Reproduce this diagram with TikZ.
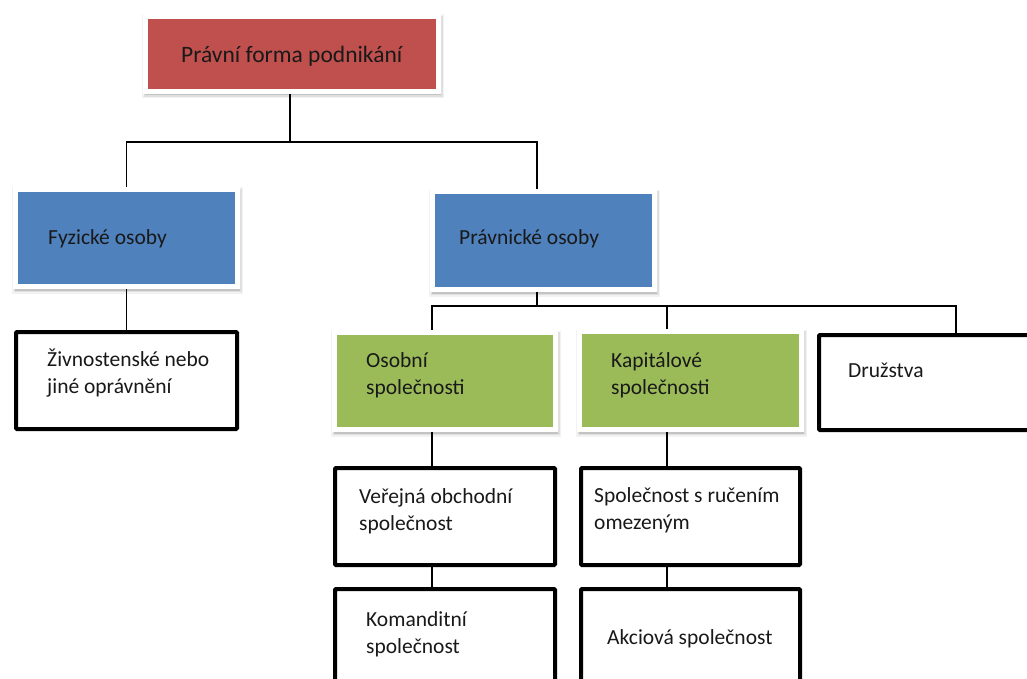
\documentclass[tikz,border=0pt]{standalone}
\usepackage{fontspec}
\setmainfont{Carlito}
\usetikzlibrary{calc}
\definecolor{cred}{HTML}{C0504D}
\definecolor{cblue}{HTML}{4F81BD}
\definecolor{cgreen}{HTML}{9BBB59}
\begin{document}
\begin{tikzpicture}[x=1pt,y=-1pt,
  cbox/.style={draw=white, line width=5pt, inner sep=0pt,
    preaction={draw=black, line width=9pt, opacity=0.05, transform canvas={xshift=1pt, yshift=-2.5pt}},
    preaction={draw=black, line width=6pt, opacity=0.08, transform canvas={xshift=1pt, yshift=-2.5pt}},
    preaction={fill=black, draw=black, line width=3pt, opacity=0.12, transform canvas={xshift=1pt, yshift=-2.5pt}}},
  bbox/.style={draw=black, line width=4pt, fill=white, inner sep=0pt, rounded corners=1pt},
  conn/.style={draw=black, line width=1.8pt},
  txt/.style={font=\fontsize{21.5}{26.5}\selectfont, align=left, inner sep=0pt, anchor=base west, text=black!90}]
\useasboundingbox (0,0) rectangle (1027,679);
\clip (0,0) rectangle (1027,679);
\fill[white] (0,0) rectangle (1027,679);
% boxes
\node[cbox, fill=cred, minimum width=293, minimum height=75] (top) at (292,54) {};
\node[cbox, fill=cblue, minimum width=222, minimum height=97] (fyz) at (126.5,238) {};
\node[cbox, fill=cblue, minimum width=222, minimum height=98] (prav) at (543.5,240.5) {};
\node[cbox, fill=cgreen, minimum width=221, minimum height=97] (oso) at (445,381) {};
\node[cbox, fill=cgreen, minimum width=222, minimum height=98] (kap) at (690.5,380.5) {};
\node[bbox, minimum width=221, minimum height=97] (zivn) at (126.5,380.5) {};
\node[bbox, minimum width=219, minimum height=95] (druz) at (928.5,382.5) {};
\node[bbox, minimum width=220, minimum height=97] (vos) at (445,516.5) {};
\node[bbox, minimum width=219, minimum height=97] (sro) at (690.5,516.5) {};
\node[bbox, minimum width=220, minimum height=97] (kom) at (445,637.5) {};
\node[bbox, minimum width=219, minimum height=97] (akc) at (690.5,637.5) {};
% connectors
\coordinate (j1) at (290,142);
\coordinate (j2) at (537,306);
\draw[conn] ([xshift=-2pt]top.south) -- ([xshift=-2pt]top.south |- j1);
\draw[conn] (fyz.north) |- (j1) -| ([xshift=-6.5pt]prav.north);
\draw[conn] (fyz.south) -- (zivn.north);
\draw[conn] ([xshift=-6.5pt]prav.south) -- (j2);
\draw[conn] ([xshift=-13pt]oso.north) |- (j2) -| ([xshift=27.5pt]druz.north);
\draw[conn] ([xshift=-23.5pt]kap.north) -- ([xshift=-23.5pt]kap.north |- j2);
\draw[conn] ([xshift=-13pt]oso.south) -- ([xshift=-13pt]vos.north);
\draw[conn] ([xshift=-13pt]vos.south) -- ([xshift=-13pt]kom.north);
\draw[conn] ([xshift=-23.5pt]kap.south) -- ([xshift=-23.5pt]sro.north);
\draw[conn] ([xshift=-23.5pt]sro.south) -- ([xshift=-23.5pt]akc.north);
% texts (base anchor = baseline of last line)
\node[txt, font=\fontsize{23.5}{28}\selectfont] (ttop) at (181,63) {Právní forma podnikání};
\node[txt] (tfyz) at (48,244) {Fyzické osoby};
\node[txt] (tprav) at (459,244) {Právnické osoby};
\node[txt] (tzivn) at (47,393) {Živnostenské nebo\\jiné oprávnění};
\node[txt] (toso) at (366,394) {Osobní\\společnosti};
\node[txt] (tkap) at (611,394) {Kapitálové\\společnosti};
\node[txt] (tdruz) at (848,377) {Družstva};
\node[txt] (tvos) at (359,530) {Veřejná obchodní\\společnost};
\node[txt] (tsro) at (594,529) {Společnost s ručením\\omezeným};
\node[txt] (tkom) at (366,653) {Komanditní\\společnost};
\node[txt] (takc) at (607,644) {Akciová společnost};
\end{tikzpicture}
\end{document}
